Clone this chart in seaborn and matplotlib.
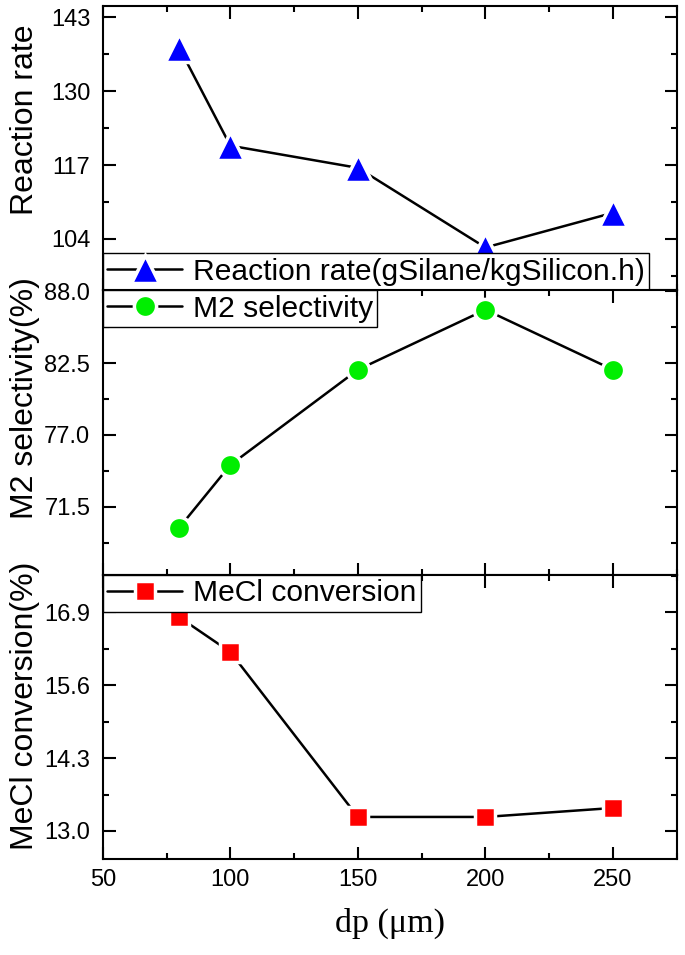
import seaborn as sns
import matplotlib.pyplot as plt

dp = [80, 100, 150, 200, 250]
reaction_rate = [137.6, 120.4, 116.5, 102.5, 108.6]
m2_selectivity = [69.9, 74.7, 82.0, 86.6, 82.0]
mecl_conversion = [16.81, 16.19, 13.25, 13.25, 13.41]

sns.set_style('ticks')
plt.rcParams['font.family'] = ['Liberation Sans', 'DejaVu Sans']
plt.rcParams['axes.linewidth'] = 1.5
plt.rcParams['axes.edgecolor'] = 'black'
plt.rcParams['xtick.color'] = 'black'
plt.rcParams['ytick.color'] = 'black'
plt.rcParams['axes.labelcolor'] = 'black'
plt.rcParams['text.color'] = 'black'


def draw_panel(ax, values, marker, color, ms, label, ylabel, ylim,
               yticks, yminor, fmt, label_y, loc, anchor):
    sns.lineplot(x=dp, y=values, ax=ax, color='black', linewidth=1.8,
                 marker=marker, markersize=ms, markerfacecolor=color,
                 markeredgecolor='white', markeredgewidth=2.5, label=label)
    ax.set_ylim(*ylim)
    ax.set_yticks(yticks, [fmt % v for v in yticks])
    ax.set_yticks(yminor, minor=True)
    ax.set_ylabel(ylabel, fontsize=23)
    ax.yaxis.set_label_coords(-0.11, label_y)
    ax.tick_params(which='both', direction='in', top=True, right=True,
                   width=1.5, labelsize=17)
    ax.tick_params(which='major', length=9)
    ax.tick_params(which='minor', length=4.5)
    ax.tick_params(axis='y', pad=9)
    ax.tick_params(axis='x', pad=7)
    leg = ax.legend(loc=loc, bbox_to_anchor=anchor, fontsize=21.6,
                    frameon=True, fancybox=False, borderpad=0.15,
                    borderaxespad=0, handlelength=2.5, handletextpad=0.35,
                    framealpha=1)
    leg.get_frame().set_edgecolor('black')
    leg.get_frame().set_linewidth(1.0)


fig, axes = plt.subplots(3, 1, sharex=True, figsize=(6.85, 9.55), dpi=100)
fig.subplots_adjust(left=0.150, right=0.988, top=0.994, bottom=0.1005, hspace=0)

draw_panel(axes[0], reaction_rate, '^', 'blue', 20,
           'Reaction rate(gSilane/kgSilicon.h)', 'Reaction rate', (95, 145),
           [104, 117, 130, 143], [97.5, 110.5, 123.5, 136.5], '%.0f', 0.60,
           'lower left', (0, 0))
draw_panel(axes[1], m2_selectivity, 'o', '#00ee00', 16,
           'M2 selectivity', 'M2 selectivity(%)', (66.3, 88.1),
           [71.5, 77.0, 82.5, 88.0], [68.75, 74.25, 79.75, 85.25], '%.1f', 0.62,
           'upper left', (0, 1))
draw_panel(axes[2], mecl_conversion, 's', 'red', 13.7,
           'MeCl conversion', 'MeCl conversion(%)', (12.5, 17.57),
           [13.0, 14.3, 15.6, 16.9], [13.65, 14.95, 16.25, 17.55], '%.1f', 0.54,
           'upper left', (0, 1))

axes[2].set_xlim(50, 275)
axes[2].set_xticks([50, 100, 150, 200, 250])
axes[2].set_xticks([75, 125, 175, 225, 275], minor=True)
axes[2].set_xlabel('dp (\u03bcm)', fontsize=24.5, family='Liberation Serif',
                   labelpad=12)

plt.savefig('out.png')
